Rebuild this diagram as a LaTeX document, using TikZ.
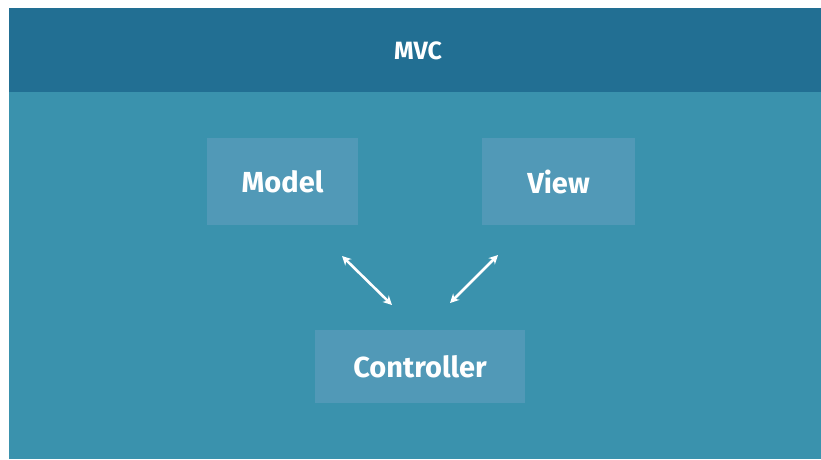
\documentclass[tikz,border=0pt]{standalone}
\usepackage{fontspec}
\setmainfont{Fira Sans}
\usetikzlibrary{arrows.meta}
\definecolor{hdr}{HTML}{226F93}
\definecolor{bodyc}{HTML}{3A92AD}
\definecolor{boxc}{HTML}{5199B7}
\begin{document}
\begin{tikzpicture}[x=1pt,y=-1pt,
  box/.style={fill=boxc,text=white,font=\fontsize{29}{33}\selectfont\bfseries,inner sep=0pt},
  link/.style={draw=white,line width=2.6pt,{Stealth[length=9pt,width=9pt]}-{Stealth[length=9pt,width=9pt]}}]
\useasboundingbox (0,0) rectangle (821,459);
\fill[white] (0,0) rectangle (821,459);
\fill[bodyc] (9,8) rectangle (821,459);
\fill[hdr] (9,8) rectangle (821,92);
\node[text=white,font=\fontsize{25}{29}\selectfont\bfseries] (title) at (418,51) {MVC};
\node[box,minimum width=151pt,minimum height=87pt] (model) at (282.5,181.5) {Model};
\node[box,minimum width=153pt,minimum height=87pt] (view) at (558.5,181.5) {View};
\node[box,minimum width=210pt,minimum height=73pt] (ctrl) at (420,366.5) {Controller};
\coordinate (a1) at (342,256);
\coordinate (a2) at (392,305);
\coordinate (b1) at (498,255);
\coordinate (b2) at (450,303);
\draw[link] (a1) -- (a2);
\draw[link] (b1) -- (b2);
\end{tikzpicture}
\end{document}
